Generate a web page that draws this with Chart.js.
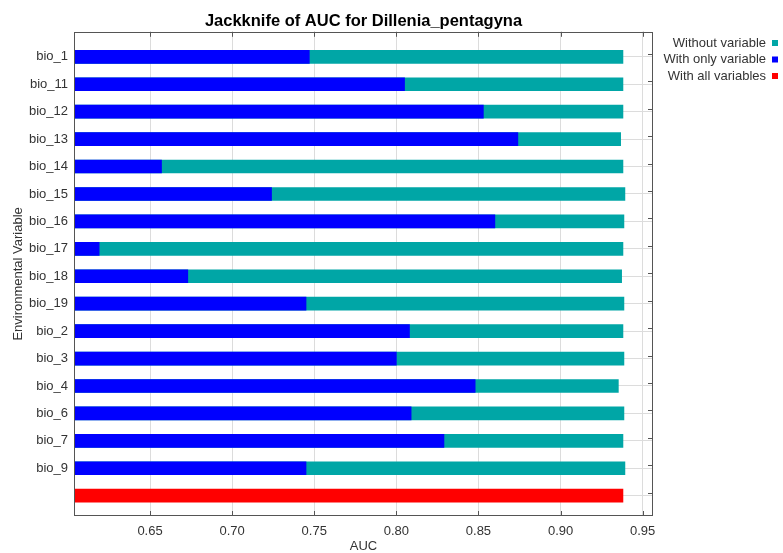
<!DOCTYPE html>
<html>
<head>
<meta charset="utf-8">
<script src="https://cdn.jsdelivr.net/npm/chart.js@4.4.1/dist/chart.umd.min.js"></script>
<style>
    html, body { margin: 0; padding: 0; background: #fff; }
</style>
</head>
<body>
<canvas id="jackknifeChart" width="783" height="553"></canvas>
<script>
// Jackknife of AUC - values
var variables = ['bio_1', 'bio_11', 'bio_12', 'bio_13', 'bio_14', 'bio_15', 'bio_16', 'bio_17',
                 'bio_18', 'bio_19', 'bio_2', 'bio_3', 'bio_4', 'bio_6', 'bio_7', 'bio_9'];
var withoutVariable = [0.938, 0.938, 0.938, 0.9366, 0.938, 0.9392, 0.9386, 0.938,
                       0.9372, 0.9386, 0.938, 0.9386, 0.9352, 0.9386, 0.938, 0.9392];
var withOnlyVariable = [0.747, 0.805, 0.853, 0.874, 0.657, 0.724, 0.860, 0.619,
                        0.673, 0.745, 0.808, 0.800, 0.848, 0.809, 0.829, 0.745];
var withAllVariables = 0.938;
var aucTicks = [0.65, 0.70, 0.75, 0.80, 0.85, 0.90, 0.95];

var legendItems = [
    { text: 'Without variable', color: '#00a6a6' },
    { text: 'With only variable', color: '#0000ff' },
    { text: 'With all variables', color: '#ff0000' }
];

var rowLabels = variables.concat(['']); // last row holds the "all variables" bar

function toPoints(values) {
    return values.map((v, i) => ({ x: v, y: i }));
}

// box around the plot with inward ticks, like the maxent plot
var framePlugin = {
    id: 'frame',
    afterDatasetsDraw(chart) {
        var ctx = chart.ctx;
        var a = chart.chartArea;
        var xs = chart.scales.x;
        var ys = chart.scales.y;
        ctx.save();
        ctx.strokeStyle = '#555';
        ctx.lineWidth = 1;
        ctx.strokeRect(Math.round(a.left) + 0.5, Math.round(a.top) + 0.5,
                       Math.round(a.width) - 1, Math.round(a.height) - 1);
        ctx.beginPath();
        xs.ticks.forEach(t => {
            var x = Math.round(xs.getPixelForValue(t.value)) + 0.5;
            ctx.moveTo(x, a.bottom); ctx.lineTo(x, a.bottom - 5);
            ctx.moveTo(x, a.top); ctx.lineTo(x, a.top + 5);
        });
        ys.ticks.forEach(t => {
            var y = Math.round(ys.getPixelForValue(t.value)) - 2.5;
            ctx.moveTo(a.right, y); ctx.lineTo(a.right - 5, y);
        });
        ctx.stroke();
        ctx.restore();
    }
};

// legend: text right aligned, small square after it
var legendPlugin = {
    id: 'sideLegend',
    afterDraw(chart) {
        var ctx = chart.ctx;
        ctx.save();
        ctx.font = '13px "Liberation Sans", Arial, sans-serif';
        ctx.textAlign = 'right';
        ctx.textBaseline = 'middle';
        legendItems.forEach((item, i) => {
            var y = 43 + i * 16.5;
            ctx.fillStyle = '#333';
            ctx.fillText(item.text, 766, y);
            ctx.fillStyle = item.color;
            ctx.fillRect(772, y - 3, 6, 6);
        });
        ctx.restore();
    }
};

var ctx = document.getElementById('jackknifeChart').getContext('2d');
var jackknifeChart = new Chart(ctx, {
    type: 'bar',
    data: {
        datasets: [{
            label: 'With only variable',
            data: toPoints(withOnlyVariable),
            backgroundColor: '#0000ff',
            barThickness: 13,
            grouped: false,
        }, {
            label: 'Without variable',
            data: toPoints(withoutVariable),
            backgroundColor: '#00a6a6',
            barThickness: 13,
            grouped: false,
        }, {
            label: 'With all variables',
            data: [{ x: withAllVariables, y: variables.length }],
            backgroundColor: '#ff0000',
            barThickness: 13,
            grouped: false,
        }],
    },
    options: {
        indexAxis: 'y',
        responsive: false,
        animation: false,
        layout: { padding: { left: 0, right: 130, top: 0, bottom: 0 } },
        plugins: {
            legend: { display: false },
            tooltip: { enabled: false },
            title: {
                display: true,
                fullSize: false,
                text: 'Jackknife of AUC for Dillenia_pentagyna',
                color: '#000',
                font: { family: '"Liberation Sans", Arial, sans-serif', size: 16.5, weight: 'bold' },
                padding: { top: 12, bottom: 0 },
            },
        },
        scales: {
            x: {
                type: 'linear',
                min: 0.6037,
                max: 0.9563,
                afterBuildTicks: scale => { scale.ticks = aucTicks.map(v => ({ value: v })); },
                afterFit: scale => { scale.height = 37; },
                ticks: {
                    callback: v => v.toFixed(2),
                    color: '#333',
                    padding: 8,
                    font: { family: '"Liberation Sans", Arial, sans-serif', size: 13 },
                },
                grid: { color: '#dcdcdc', drawTicks: false },
                border: { display: false },
                title: {
                    display: true,
                    text: 'AUC',
                    color: '#333',
                    padding: { top: 0, bottom: -1 },
                    font: { family: '"Liberation Sans", Arial, sans-serif', size: 13 },
                },
            },
            y: {
                type: 'linear',
                reverse: true,
                offset: false,
                min: -0.912,
                max: 16.74,
                afterBuildTicks: scale => { scale.ticks = rowLabels.map((l, i) => ({ value: i })); },
                afterFit: scale => { scale.width = 74; },
                ticks: {
                    callback: v => rowLabels[v],
                    color: '#333',
                    padding: 6,
                    font: { family: '"Liberation Sans", Arial, sans-serif', size: 13 },
                },
                grid: { color: '#dcdcdc', drawTicks: false, offset: false },
                border: { display: false },
                title: {
                    display: true,
                    text: 'Environmental Variable',
                    color: '#333',
                    padding: { top: 11, bottom: 0 },
                    font: { family: '"Liberation Sans", Arial, sans-serif', size: 13 },
                },
            },
        },
    },
    plugins: [framePlugin, legendPlugin],
});
</script>
</body>
</html>
